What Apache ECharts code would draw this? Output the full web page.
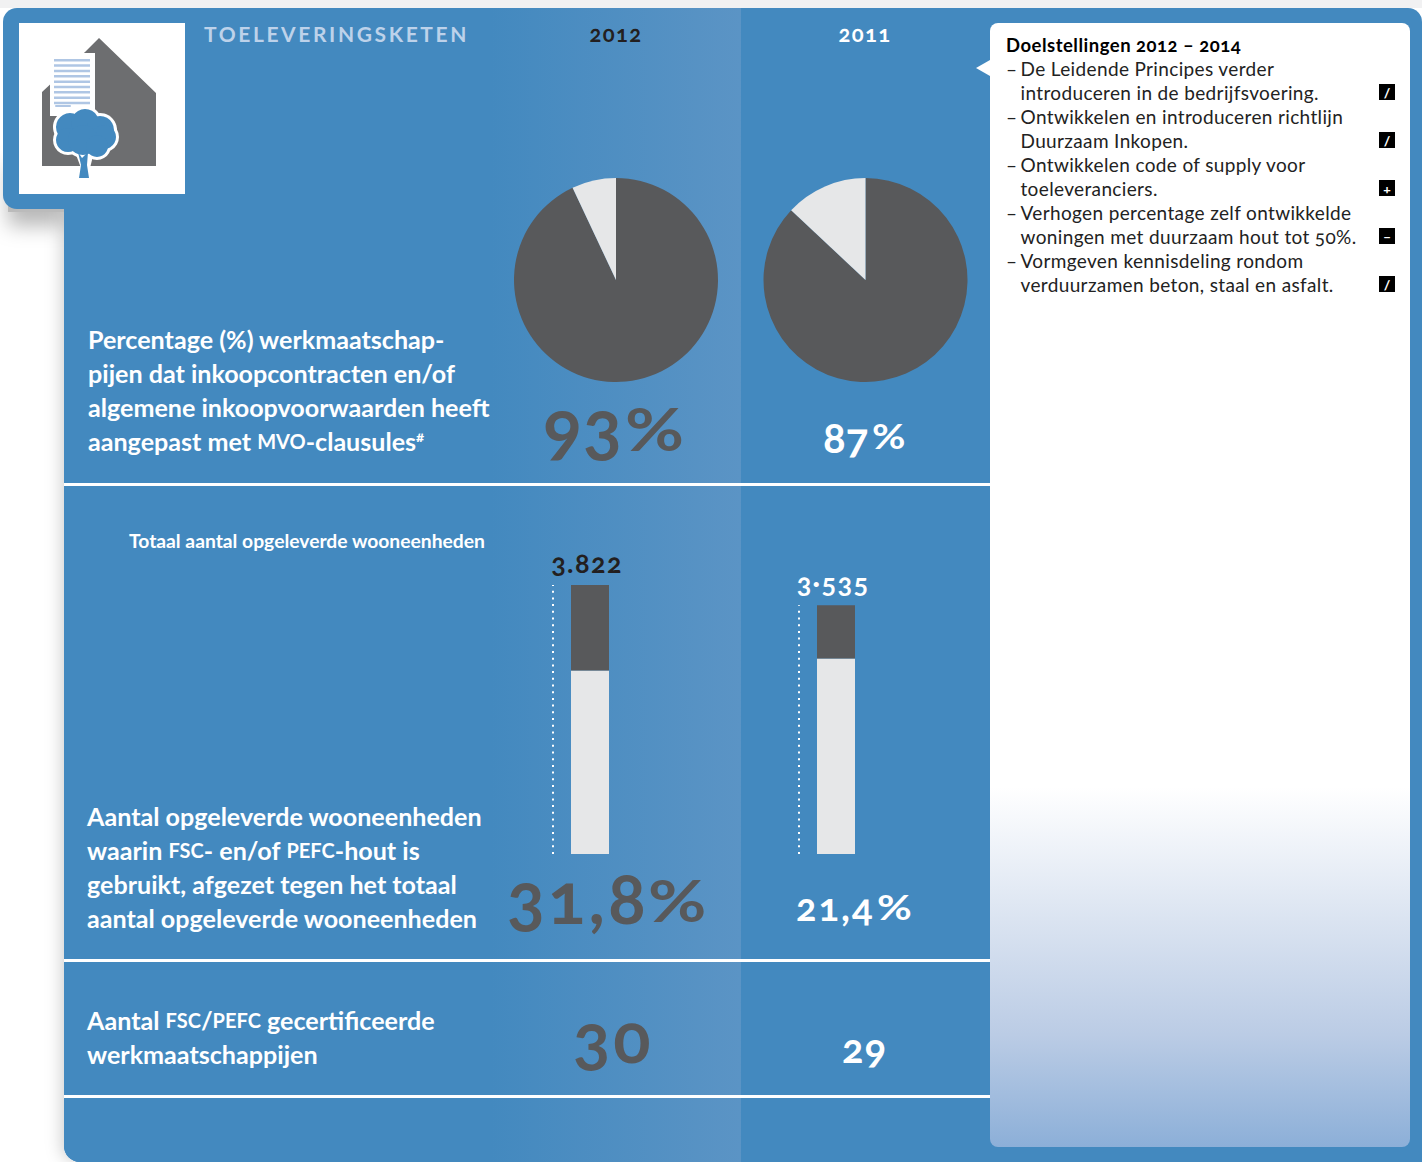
<!DOCTYPE html>
<html><head><meta charset="utf-8">
<script src="https://cdn.jsdelivr.net/npm/echarts@6/dist/echarts.min.js"></script>
<style>html,body{margin:0;padding:0;background:#fff}#c{width:1422px;height:1162px}
svg text{font-feature-settings:"onum" 1;font-variant-numeric:oldstyle-nums}</style>
</head><body><div id="c"></div>
<script>
// ---- data ----
const years = ['2012', '2011'];
const pctContracts = [93, 87];
const totalUnits = [3822, 3535];
const totalLabels = ['3.822', '3·535'];
const certifiedUnits = [1215, 757];
const otherUnits = [2607, 2778];
const certifiedShareLabels = ['31,8', '21,4'];
const certifiedCompanies = [30, 29];
const goalsTitle = 'Doelstellingen 2012 – 2014';
const goalLines = [
  ['– ', 'De Leidende Principes verder'],
  ['', 'introduceren in de bedrijfsvoering.'],
  ['– ', 'Ontwikkelen en introduceren richtlijn'],
  ['', 'Duurzaam Inkopen.'],
  ['– ', 'Ontwikkelen code of supply voor'],
  ['', 'toeleveranciers.'],
  ['– ', 'Verhogen percentage zelf ontwikkelde'],
  ['', 'woningen met duurzaam hout tot 50%.'],
  ['– ', 'Vormgeven kennisdeling rondom'],
  ['', 'verduurzamen beton, staal en asfalt.']
];
const goalStatus = ['/', '/', '+', '–', '/'];

const BLUE = '#4389BF', DARK = '#58595B', LIGHT = '#E6E7E8', FONT = 'Lato';
const chart = echarts.init(document.getElementById('c'), null, {renderer: 'svg', width: 1422, height: 1162});

const rect = (x, y, w, h, fill, extra = {}, r) => ({type: 'rect', shape: {x, y, width: w, height: h, r: r || 0}, style: Object.assign({fill}, extra), silent: true});
const poly = (points, fill) => ({type: 'polygon', shape: {points}, style: {fill}, silent: true});
const txt = (x, y, text, size, fill, o = {}, el = {}) => Object.assign({type: 'text', x, y, silent: true, style: Object.assign({
  text, fontFamily: FONT, fontWeight: 'bold', fontSize: size, fill, textAlign: 'left', textVerticalAlign: 'middle'}, o)}, el);
// letter spacing per text string (svg text styled after render)
const spacing = {};
const spaced = (x, y, text, size, fill, ls, o) => { spacing[text] = ls; return txt(x, y, text, size, fill, o); };
const pctSign = (x, y, size, fill, sx) => txt(x, y, '%', size, fill, {}, {scaleX: sx});

const g = [];
// page furniture
g.push(rect(0, 0, 1422, 8, '#F1F1F2'));
g.push(rect(64, 60, 60, 1102, BLUE, {shadowBlur: 16, shadowColor: 'rgba(0,0,0,0.18)', shadowOffsetX: -3}, [0,0,0,16]));
g.push(rect(8, 150, 56, 62, '#bbb', {shadowBlur: 20, shadowColor: 'rgba(0,0,0,0.28)', shadowOffsetY: 14}));
g.push(rect(64, 8, 1358, 1154, BLUE, {}, [14, 14, 0, 16]));
g.push(rect(3, 8, 120, 201, BLUE, {}, [14, 0, 0, 14]));
g.push(rect(490, 8, 251, 1154, new echarts.graphic.LinearGradient(0, 0, 1, 0, [{offset: 0, color: BLUE}, {offset: 1, color: '#5B94C5'}])));
[483, 959, 1095].forEach(y => g.push(rect(64, y, 926, 3, '#fff')));

// icon
g.push(rect(19, 23, 166, 171, '#fff'));
g.push(poly([[42, 166], [42, 92], [85, 52], [85, 52], [99, 38], [156, 93], [156, 166]], '#6D6E70'));
g.push(rect(50, 53, 45, 63, '#fff'));
for (let i = 0; i < 9; i++) g.push(rect(54, 59 + i * 5.35, 36, 2.5, '#AFC6E4'));
g.push(rect(55, 105, 16, 2, '#AFC6E4', {}, 1));
const blob = (cx, cy, r, f) => ({type: 'circle', shape: {cx, cy, r}, style: {fill: f}, silent: true});
const lobes = [[70, 127, 14], [85, 123, 14], [100, 130, 14], [104, 137, 12], [68, 140, 12], [83, 140, 15], [97, 146, 11]];
lobes.forEach(l => g.push(blob(l[0], l[1], l[2] + 3, '#fff')));
g.push(poly([[75, 152], [94, 152], [90, 168], [92, 178], [78, 178], [81, 168]], '#fff'));
lobes.forEach(l => g.push(blob(l[0], l[1], l[2], BLUE)));
g.push(poly([[78, 152], [82, 158], [88, 152], [87, 165], [89, 178], [79, 178], [81, 165]], BLUE));

// headers
g.push(spaced(204, 33.5, 'TOELEVERINGSKETEN', 21, '#BDD2EA', 2.6));
g.push(spaced(616, 33, years[0], 22, '#231F20', 1.4, {textAlign: 'center'}));
g.push(spaced(865, 33, years[1], 22, '#fff', 1.4, {textAlign: 'center'}));

// left captions
const capRich = {sc: {fontFamily: FONT, fontWeight: 'bold', fontSize: 20, fill: '#fff'}, sup: {fontFamily: FONT, fontWeight: 'bold', fontSize: 15, fill: '#fff', verticalAlign: 'top'}};
const capSize = 25.1;
[[88, 339, 'Percentage (%) werkmaatschap-'], [88, 373, 'pijen dat inkoopcontracten en/of'], [88, 407, 'algemene inkoopvoorwaarden heeft'],
 [88, 441, 'aangepast met {sc|MVO}-clausules{sup|#}'],
 [87, 816, 'Aantal opgeleverde wooneenheden'], [87, 850, 'waarin {sc|FSC}- en/of {sc|PEFC}-hout is'], [87, 884, 'gebruikt, afgezet tegen het totaal'], [87, 918, 'aantal opgeleverde wooneenheden'],
 [87, 1020, 'Aantal {sc|FSC}/{sc|PEFC} gecertificeerde'], [87, 1054, 'werkmaatschappijen']
].forEach(c => g.push(txt(c[0], c[1], c[2], capSize, '#fff', {rich: capRich})));
g.push(txt(129, 540, 'Totaal aantal opgeleverde wooneenheden', 19.3, '#fff'));

// big numbers
g.push(spaced(543, 425, String(pctContracts[0]), 72, DARK, 1));
g.push(pctSign(625, 428, 60, DARK, 1.2));
g.push(txt(823, 437, String(pctContracts[1]), 42, '#fff'));
g.push(pctSign(872, 436, 34, '#fff', 1.2));
g.push(spaced(507, 897, certifiedShareLabels[0], 70, DARK, 3));
g.push(pctSign(648, 899.5, 57, DARK, 1.25));
g.push(spaced(796, 906, certifiedShareLabels[1], 38, '#fff', 2));
g.push(pctSign(877, 907, 34, '#fff', 1.25));
g.push(spaced(573, 1036, String(certifiedCompanies[0]), 69, DARK, 3));
g.push(spaced(842, 1048, String(certifiedCompanies[1]), 40, '#fff', 1));

// goals panel
g.push(rect(990, 23, 420, 1124, new echarts.graphic.LinearGradient(0, 0, 0, 1, [
  {offset: 0, color: '#fff'}, {offset: 0.68, color: '#fff'}, {offset: 0.9, color: '#BBCCE5'}, {offset: 1, color: '#8CAFD8'}]), {}, [8, 8, 8, 8]));
g.push(poly([[976, 68], [990, 60], [990, 76]], '#fff'));
g.push(spaced(1006, 45, goalsTitle, 18.5, '#000', 0.5));
goalLines.forEach((l, i) => {
  const y = 68 + i * 24;
  if (l[0]) g.push(txt(1006, y, '–', 19, '#222', {fontWeight: 'normal'}));
  g.push(spaced(1020.5, y, l[1], 19, '#222', 0.36, {fontWeight: 'normal'}));
});
goalStatus.forEach((s, i) => {
  const y = 92 + i * 48;
  g.push(rect(1379, y - 8, 16, 16, '#000'));
  g.push(txt(1387, y, s, 14, '#fff', {textAlign: 'center'}));
});

const pie = (i, cx) => ({
  type: 'pie', center: [cx, 280], radius: [0, 102], startAngle: 90, clockwise: true, silent: true,
  label: {show: false}, labelLine: {show: false}, z: 5,
  data: [{value: pctContracts[i], itemStyle: {color: DARK}}, {value: 100 - pctContracts[i], itemStyle: {color: LIGHT}}]
});

chart.setOption({
  animation: false,
  graphic: {elements: g.map(e => Object.assign(e, {z: e.z || 1}))},
  grid: {left: 467, width: 492, top: 585, height: 269, containLabel: false},
  xAxis: {type: 'category', data: years, show: false},
  yAxis: {type: 'value', min: 0, max: totalUnits[0], show: false},
  series: [
    pie(0, 616), pie(1, 865.5),
    {type: 'bar', stack: 'u', barWidth: 38, data: otherUnits, itemStyle: {color: LIGHT}, silent: true, z: 5},
    {type: 'bar', stack: 'u', barWidth: 38, silent: true, z: 5, itemStyle: {color: DARK},
     data: certifiedUnits.map((v, i) => ({value: v, label: {show: true, position: 'top', distance: 9, offset: [-3, 0], formatter: totalLabels[i],
       fontFamily: FONT, fontWeight: 'bold', fontSize: 27, color: i === 0 ? '#231F20' : '#fff'}}))},
    {type: 'custom', silent: true, z: 5, data: totalUnits.map((v, i) => [i, v]),
     renderItem: (p, api) => {
       const a = api.coord([api.value(0), 0]), b = api.coord([api.value(0), api.value(1)]);
       return {type: 'line', shape: {x1: a[0] - 37, y1: a[1], x2: b[0] - 37, y2: b[1]}, style: {stroke: '#fff', lineWidth: 2, lineDash: [2, 4.7]}};
     }}
  ]
});
totalLabels.forEach(t => { spacing[t] = 1.4; });
const applySpacing = () => document.querySelectorAll('#c svg text').forEach(t => {
  const ls = spacing[t.textContent];
  if (ls !== undefined) t.style.letterSpacing = ls + 'px';
});
chart.on('finished', applySpacing);
applySpacing();
setTimeout(applySpacing, 50);
</script></body></html>
